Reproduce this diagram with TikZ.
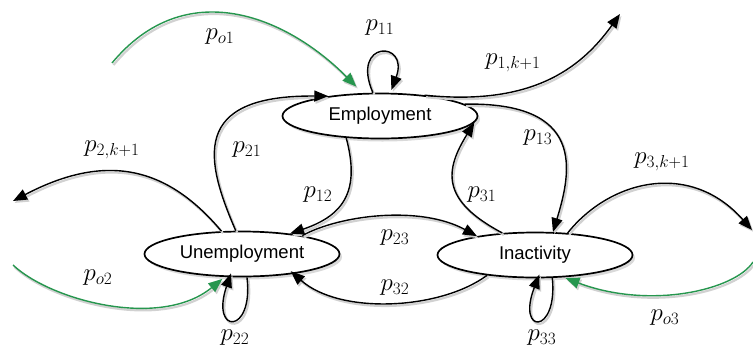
\documentclass[tikz,border=0pt]{standalone}
\usepackage{fontspec}
\newfontfamily\statefont{Liberation Sans}
\usetikzlibrary{shapes.geometric,arrows.meta,shadows}
\definecolor{flowgreen}{RGB}{38,150,78}
\begin{document}
\begin{tikzpicture}[x=1pt,y=-1pt,
  state/.style={ellipse, draw=black, line width=1.7pt, fill=white,
    minimum width=195pt, minimum height=45pt, inner sep=0pt,
    font=\statefont\fontsize{18.5}{22}\selectfont,
    drop shadow={opacity=0.3, shadow xshift=2.5pt, shadow yshift=-3pt}},
  lineshadow/.style={preaction={draw=black!18, line width=2.2pt,
    transform canvas={xshift=1.5pt,yshift=-2pt}}},
  edge/.style={draw=black, line width=1.4pt, lineshadow,
    -{Triangle[length=14pt,width=11pt]}},
  inflow/.style={draw=flowgreen, line width=1.4pt, lineshadow,
    -{Triangle[length=14pt,width=11pt]}},
  lbl/.style={font=\fontsize{23.5}{28}\selectfont, inner sep=0pt}]
\useasboundingbox (0,0) rectangle (753,349);

% states
\node[state] (emp) at (380,116) {Employment};
\node[state] (une) at (242,254) {Unemployment};
\node[state] (ina) at (535,255) {Inactivity};

% free ends
\coordinate (o1) at (112,63);
\coordinate (k1) at (620,14);
\coordinate (k2) at (13,201);
\coordinate (o2) at (13,265);
\coordinate (k3) at (752,230);
\coordinate (o3) at (753,262);

% outside flows
\draw[inflow, shorten >=9pt] (o1) .. controls (185,-25) and (285,15) .. (emp.127);
\draw[inflow, shorten >=3pt] (o2) .. controls (50,300) and (160,330) .. (une.-127);
\draw[inflow, shorten >=2pt] (o3) .. controls (735,290) and (650,310) .. (ina.-38);

% exits
\draw[edge] (emp.25) .. controls (530,106) and (580,70) .. (k1);
\draw[edge] (une.132) .. controls (170,170) and (110,150) .. (k2);
\draw[edge] (ina.34) .. controls (610,180) and (690,160) .. (k3);

% self loops
\draw[edge, shorten >=3pt] (emp.107) .. controls (350,40) and (410,40) .. (emp.66);
\draw[edge, shorten >=-4pt] (une.-78) .. controls (254,335) and (210,335) .. (une.-118);
\draw[edge, shorten >=-4pt] (ina.-53) .. controls (558,335) and (516,335) .. (ina.-83);

% transitions
\draw[edge] (emp.8) .. controls (585,102) and (572,170) .. (ina.52);
\draw[edge] (ina.146) .. controls (440,200) and (445,170) .. (emp.-4);
\draw[edge] (emp.213) .. controls (360,190) and (345,215) .. (une.23);
\draw[edge] (une.105) .. controls (205,160) and (190,95) .. (emp.159);
\draw[edge] (une.17) .. controls (340,215) and (420,205) .. (ina.162);
\draw[edge, shorten >=-4pt] (ina.203) .. controls (440,310) and (340,315) .. (une.-21);

% labels
\node[lbl] (lo1) at (220,37) {$p_{o1}$};
\node[lbl] (l11) at (380,28) {$p_{11}$};
\node[lbl] (l1k) at (513,63) {$p_{1,k+1}$};
\node[lbl] (l13) at (538,138) {$p_{13}$};
\node[lbl] (l31) at (482,195) {$p_{31}$};
\node[lbl] (l3k) at (662,162) {$p_{3,k+1}$};
\node[lbl] (l23) at (395,238) {$p_{23}$};
\node[lbl] (l32) at (395,288) {$p_{32}$};
\node[lbl] (l33) at (542,338) {$p_{33}$};
\node[lbl] (lo3) at (665,318) {$p_{o3}$};
\node[lbl] (l21) at (247,150) {$p_{21}$};
\node[lbl] (l12) at (318,195) {$p_{12}$};
\node[lbl] (l2k) at (112,150) {$p_{2,k+1}$};
\node[lbl] (lo2) at (98,278) {$p_{o2}$};
\node[lbl] (l22) at (235,338) {$p_{22}$};
\end{tikzpicture}
\end{document}
